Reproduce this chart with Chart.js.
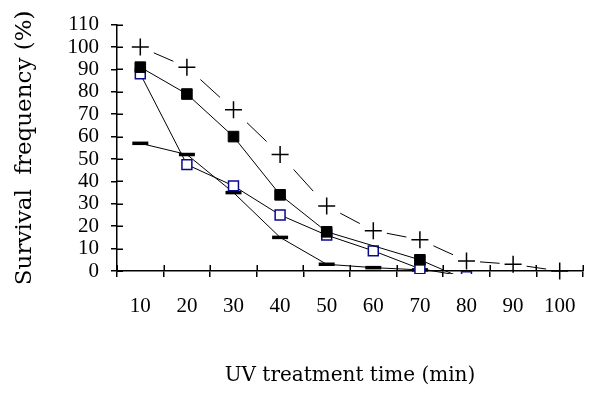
<!DOCTYPE html>
<html>
<head>
<meta charset="utf-8">
<script src="https://cdn.jsdelivr.net/npm/chart.js@4.4.1/dist/chart.umd.min.js"></script>
<style>
  html, body { margin: 0; padding: 0; background: #fff; }
</style>
</head>
<body>
<canvas id="myChart" width="597" height="393"></canvas>
<script>
'use strict';

// values
var times = ['10', '20', '30', '40', '50', '60', '70', '80', '90', '100'];
var plusValues = [100, 91, 72, 52, 29, 18, 14, 4.5, 3, 0];
var filledValues = [91, 79, 60, 34, 17.5, null, 5, -4];
var openValues = [88, 47.5, 38, 25, 16, 9, 1, -2.5];
var dashValues = [57, 52, 35, 15, 3, 1.5, 0.5];
var yTicks = [0, 10, 20, 30, 40, 50, 60, 70, 80, 90, 100, 110];

var tickFont = { family: 'Liberation Serif', size: 21 };
var titleFont = { family: 'DejaVu Serif', size: 20 };

// little tick marks on the inner side of both axes
var innerTicks = {
  id: 'innerTicks',
  beforeDatasetsDraw: function(chart) {
    var ctx = chart.ctx;
    var area = chart.chartArea;
    var xScale = chart.scales.x;
    var yScale = chart.scales.y;
    ctx.save();
    ctx.strokeStyle = '#000';
    ctx.lineWidth = 1.5;
    ctx.beginPath();
    for (var i = 0; i < yScale.ticks.length; i++) {
      var py = Math.round(yScale.getPixelForTick(i)) + 0.25;
      ctx.moveTo(area.left, py);
      ctx.lineTo(area.left + 6, py);
    }
    for (var j = 0; j <= xScale.ticks.length; j++) {
      var px = Math.round(xScale.getPixelForValue(j - 0.5)) + 0.25;
      ctx.moveTo(px, area.bottom);
      ctx.lineTo(px, area.bottom - 6);
    }
    ctx.stroke();
    ctx.restore();
  }
};

// one dash in the middle of every segment, like the old spreadsheet style
function segLength(c) {
  var dx = c.p1.x - c.p0.x;
  var dy = c.p1.y - c.p0.y;
  return Math.sqrt(dx * dx + dy * dy);
}

function makeChart() {
  var ctx = document.getElementById('myChart').getContext('2d');
  var chart = new Chart(ctx, {
    type: 'line',
    data: {
      labels: times,
      datasets: [{
        label: 'filled',
        data: filledValues,
        borderColor: '#000',
        borderWidth: 1,
        pointStyle: 'rect',
        pointRadius: 7.5,
        pointBackgroundColor: '#000',
        pointBorderColor: '#000',
        pointBorderWidth: 1,
        spanGaps: true,
        clip: { left: false, top: false, right: false, bottom: 3 }
      }, {
        label: 'open',
        data: openValues,
        borderColor: '#000',
        borderWidth: 1,
        pointStyle: 'rect',
        pointRadius: 7,
        pointBackgroundColor: '#fff',
        pointBorderColor: '#0a0a8c',
        pointBorderWidth: 1.5,
        clip: { left: false, top: false, right: false, bottom: 3 }
      }, {
        label: 'plus',
        data: plusValues,
        borderColor: '#000',
        borderWidth: 1,
        pointStyle: 'cross',
        pointRadius: 8.5,
        pointBorderColor: '#000',
        pointBorderWidth: 1.5,
        clip: false,
        segment: {
          borderDash: function(c) {
            var len = segLength(c);
            return [len * 0.42, len];
          },
          borderDashOffset: function(c) {
            return -segLength(c) * 0.29;
          }
        }
      }, {
        label: 'dash',
        data: dashValues,
        borderColor: '#000',
        borderWidth: 1,
        pointStyle: 'line',
        pointRadius: 8,
        pointBorderColor: '#000',
        pointBorderWidth: 3.5,
        clip: false
      }]
    },
    options: {
      responsive: false,
      animation: false,
      events: [],
      layout: { padding: { left: 0, right: 14, top: 20, bottom: 0 } },
      elements: { line: { tension: 0 } },
      plugins: {
        legend: { display: false },
        tooltip: { enabled: false }
      },
      scales: {
        x: {
          type: 'category',
          offset: true,
          grid: {
            offset: true,
            drawOnChartArea: false,
            drawTicks: true,
            tickLength: 6,
            color: '#000',
            lineWidth: 1.5
          },
          border: { display: true, color: '#000', width: 1.5 },
          ticks: {
            color: '#000',
            font: tickFont,
            padding: 17,
            maxRotation: 0,
            autoSkip: false
          },
          title: {
            display: true,
            text: 'UV treatment time (min)',
            color: '#000',
            font: titleFont,
            padding: { top: 0, bottom: 5 }
          },
          afterFit: function(scale) { scale.height = 122; }
        },
        y: {
          min: yTicks[0],
          max: yTicks[yTicks.length - 1],
          afterBuildTicks: function(scale) {
            scale.ticks = yTicks.map(function(v) { return { value: v }; });
          },
          grid: {
            drawOnChartArea: false,
            drawTicks: true,
            tickLength: 6,
            color: '#000',
            lineWidth: 1.5
          },
          border: { display: true, color: '#000', width: 1.5 },
          ticks: {
            color: '#000',
            font: tickFont,
            padding: 12,
            autoSkip: false
          },
          title: {
            display: true,
            text: 'Survival  frequency (%)',
            color: '#000',
            font: { family: 'DejaVu Serif', size: 23 },
            padding: { top: 11, bottom: 0 }
          },
          afterFit: function(scale) { scale.width = 117; }
        }
      }
    },
    plugins: [innerTicks]
  });
  return chart;
}

makeChart();
</script>
</body>
</html>
